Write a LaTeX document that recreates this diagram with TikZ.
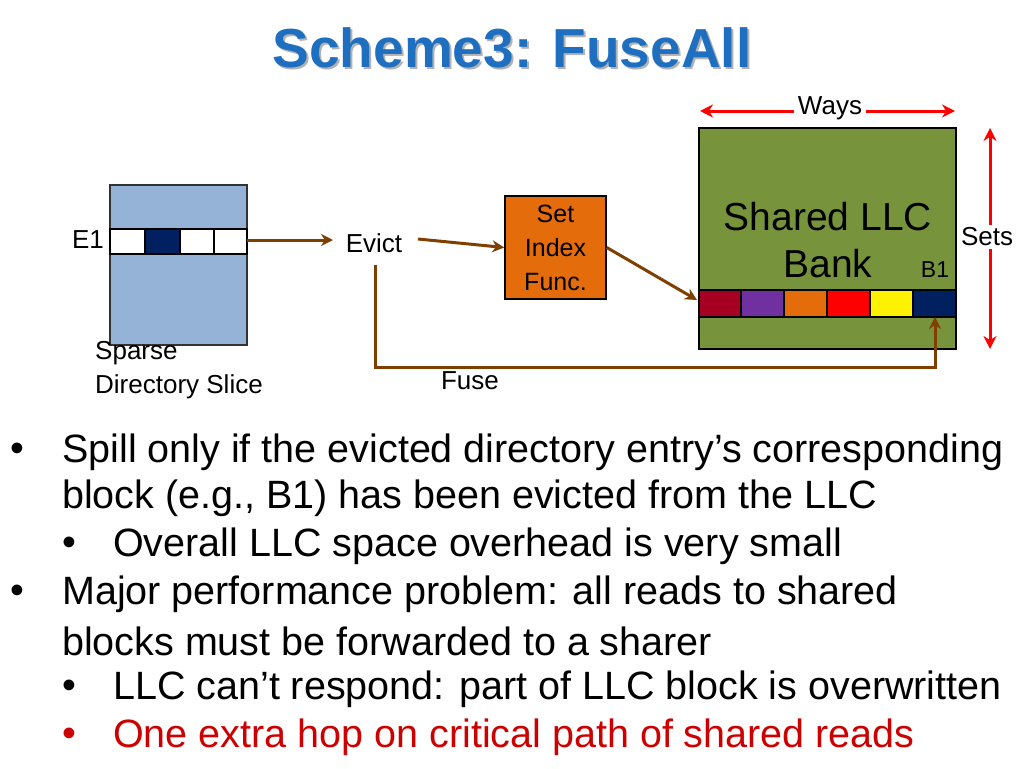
\documentclass[tikz,border=0pt]{standalone}
\usepackage{fontspec}
\setmainfont{Liberation Sans}
\usetikzlibrary{arrows.meta}
\definecolor{brn}{HTML}{7F3F00}
\definecolor{ttl}{HTML}{1F6FC0}
\begin{document}
\begin{tikzpicture}[x=1pt,y=-1pt,
 lbl/.style={inner sep=0pt,font=\fontsize{26}{30}\selectfont},
 br/.style={draw=brn,line width=3pt,-{Stealth[length=12pt,width=12pt]}},
 rd/.style={draw=red,line width=3pt,{Stealth[length=13pt,width=13pt]}-{Stealth[length=13pt,width=13pt]}},
 cell/.style={draw=black,line width=1.5pt},
 bl/.style={anchor=west,inner sep=0pt,font=\fontsize{39.5}{44}\selectfont}]
\useasboundingbox (0,0) rectangle (1024,768);
\node[text=gray!60,font=\bfseries\fontsize{55}{60}\selectfont] at (514,50) {Scheme3: FuseAll};
\node (title)[text=ttl,font=\bfseries\fontsize{55}{60}\selectfont] at (512,48) {Scheme3: FuseAll};
% directory slice
\node (dir)[draw=black!80,line width=2pt,fill={rgb,255:red,149;green,179;blue,215},minimum width=137pt,minimum height=160pt,inner sep=0pt] at (178.5,265) {};
\filldraw[cell,fill=white] (110,229) rectangle (145,254);
\filldraw[cell,fill={rgb,255:red,0;green,32;blue,96}] (145,229) rectangle (180,254);
\filldraw[cell,fill=white] (180,229) rectangle (214,254);
\filldraw[cell,fill=white] (214,229) rectangle (247,254);
\node[lbl] (e1) at (88,240) {E1};
\node[lbl,align=left,anchor=north west,font=\fontsize{26}{34}\selectfont] (sds) at (95,341) {Sparse\\Directory Slice};
\coordinate (dirout) at (247,240);
\node[lbl] (evict) at (374,243) {Evict};
\draw[br] (dirout) -- (333,240);
\node (sif)[draw=black,line width=1.5pt,fill={rgb,255:red,228;green,108;blue,10},minimum width=101pt,minimum height=103pt,align=center,inner sep=0pt,font=\fontsize{25}{34}\selectfont] at (555.5,247.5) {Set\\Index\\Func.};
\draw[br] (418,239) -- (sif.west);
% bank
\node (bank)[draw=black,line width=2pt,fill={rgb,255:red,119;green,147;blue,60},minimum width=257pt,minimum height=221pt,inner sep=0pt] at (827.5,238.5) {};
\node[lbl,font=\fontsize{39}{47}\selectfont,align=center] (bt) at (828,240) {Shared LLC\\Bank};
\node[lbl,font=\fontsize{23}{26}\selectfont] (b1) at (935,270) {B1};
\foreach \x/\c in {699/{rgb,255:red,165;green,0;blue,33},741/{rgb,255:red,112;green,48;blue,160},784/{rgb,255:red,228;green,108;blue,10},827/red,870/yellow,913/{rgb,255:red,0;green,32;blue,96}}
 \filldraw[cell,fill=\c] (\x,290) rectangle ++(43,27);
\coordinate (b1cell) at (935,317);
\draw[br] (sif.east) -- (697,300);
\draw[br] (375,265) -- (375,367) -- (935,367) -- (b1cell);
\node[lbl] (fuse) at (470,381) {Fuse};
% ways / sets
\draw[rd] (700,111) -- (955,111);
\node[lbl,fill=white,inner sep=4pt] (ways) at (830,108) {Ways};
\draw[rd] (990,128) -- (990,349);
\node[lbl,fill=white,inner sep=3pt] (sets) at (987,237) {Sets};
% bullets
\foreach \y/\t in {452/{Spill only if the evicted directory entry’s corresponding},594/{Major performance problem: all reads to shared}}
 {\node[bl] at (10,\y) {•}; \node[bl] at (62,\y) {\t};}
\node[bl] at (62,498) {block (e.g., B1) has been evicted from the LLC};
\node[bl] at (62,641) {blocks must be forwarded to a sharer};
\node[bl] at (62,546) {•}; \node[bl] at (113,546) {Overall LLC space overhead is very small};
\node[bl] at (62,689) {•}; \node[bl] at (113,689) {LLC can’t respond: part of LLC block is overwritten};
\node[bl,text=red!80!black] at (62,737) {•}; \node[bl,text=red!80!black] at (113,737) {One extra hop on critical path of shared reads};
\end{tikzpicture}
\end{document}
